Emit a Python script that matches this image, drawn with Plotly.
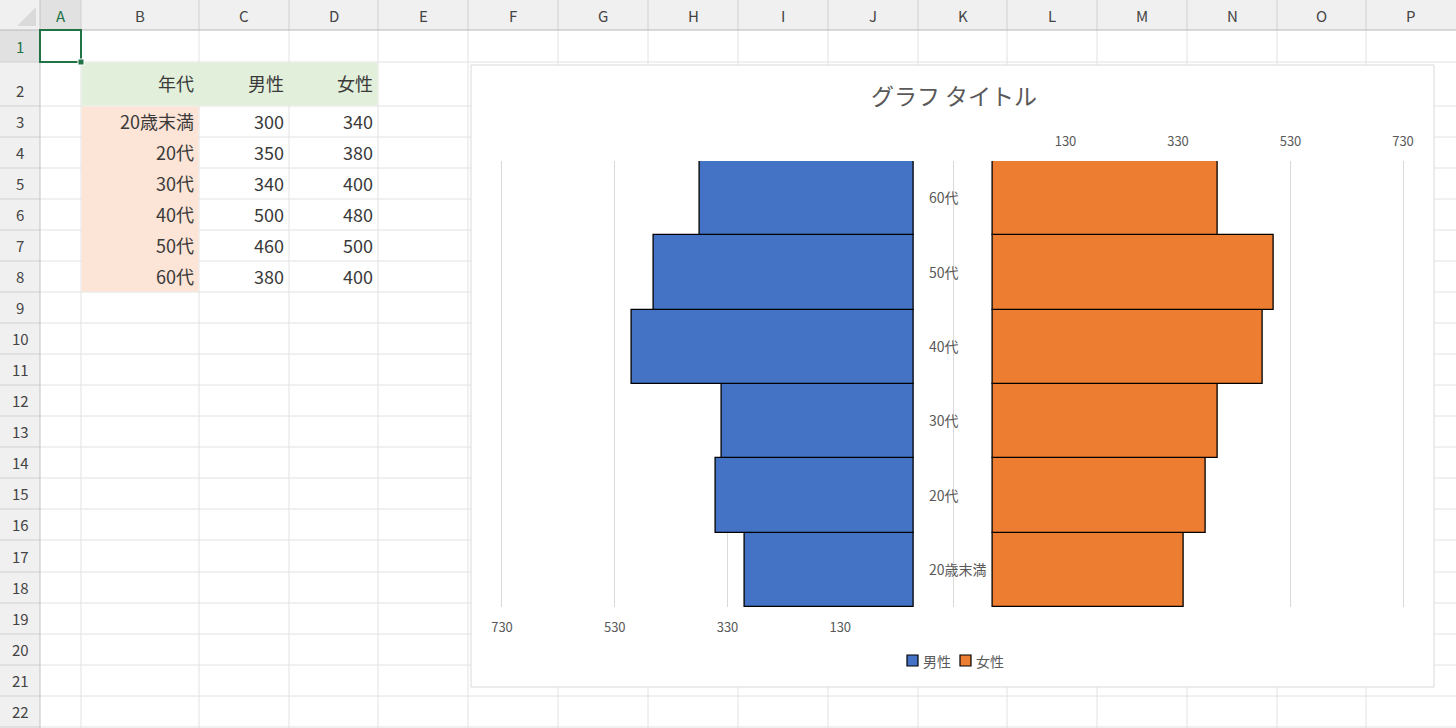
import plotly.graph_objects as go

# ---------------- data ----------------
categories = ["20歳末満", "20代", "30代", "40代", "50代", "60代"]
male = [300, 350, 340, 500, 460, 380]
female = [340, 380, 400, 480, 500, 400]
table_header = ["年代", "男性", "女性"]
series_names = ["男性", "女性"]
series_colors = ["#4472C4", "#ED7D31"]
tick_vals = [-70, 130, 330, 530, 730]
tick_text = ["", "130", "330", "530", "730"]
col_letters = list("ABCDEFGHIJKLMNOP")
row_numbers = list(range(1, 23))
chart_title = "グラフ タイトル"

# ---------------- geometry helpers ----------------
W, H = 1456, 728
col_edges = [40, 81, 199, 289, 378, 468, 558, 648, 738, 828, 918, 1007, 1097, 1187, 1277, 1366, 1456]
row_edges = [30, 62, 106, 137, 168, 199, 230, 261, 292, 323, 354, 385, 416, 447, 478, 509, 540,
             572, 603, 634, 665, 696, 727]


def X(px):
    return px / W


def Y(py):
    return 1 - py / H


FONT = "Noto Sans CJK JP, Noto Sans, sans-serif"
shapes = []
annotations = []


def rect(x0, y0, x1, y1, fill=None, line=None, lw=1, layer="below"):
    shapes.append(dict(type="rect", xref="paper", yref="paper",
                       x0=X(x0), x1=X(x1), y0=Y(y1), y1=Y(y0),
                       fillcolor=fill if fill else "rgba(0,0,0,0)",
                       line=dict(color=line if line else "rgba(0,0,0,0)", width=lw if line else 0),
                       layer=layer))


def hline(x0, x1, y, color, lw=1, layer="below"):
    shapes.append(dict(type="line", xref="paper", yref="paper", x0=X(x0), x1=X(x1), y0=Y(y), y1=Y(y),
                       line=dict(color=color, width=lw), layer=layer))


def vline(x, y0, y1, color, lw=1, layer="below"):
    shapes.append(dict(type="line", xref="paper", yref="paper", x0=X(x), x1=X(x), y0=Y(y0), y1=Y(y1),
                       line=dict(color=color, width=lw), layer=layer))


def text(px, py, s, size=16, color="#3a3a3a", anchor="center"):
    annotations.append(dict(xref="paper", yref="paper", x=X(px), y=Y(py), text=s, showarrow=False,
                            xanchor=anchor, yanchor="middle", font=dict(family=FONT, size=size, color=color)))


# ---------------- spreadsheet ----------------
HDR_BG = "#F0F0F0"
SEL_BG = "#E1E1E1"
GRID = "#E2E2E2"
SEL_GREEN = "#217346"

rect(0, 0, W, 30, fill=HDR_BG)
rect(0, 0, 40, H, fill=HDR_BG)
rect(col_edges[0], 0, col_edges[1], 30, fill=SEL_BG)
rect(0, row_edges[0], 40, row_edges[1], fill=SEL_BG)
shapes.append(dict(type="path", xref="paper", yref="paper",
                   path=f"M {X(36)} {Y(26)} L {X(36)} {Y(7)} L {X(17)} {Y(26)} Z",
                   fillcolor="#DADADA", line=dict(width=0), layer="below"))

# grid lines
for cx in col_edges[1:-1]:
    vline(cx, 30, H, GRID)
    vline(cx, 0, 30, "#D0D0D0")
for ry in row_edges[1:]:
    hline(40, W, ry, GRID)
    hline(0, 40, ry, "#D0D0D0")

# table fills (cover grid lines like Excel fills)
rect(col_edges[1] + 0.5, row_edges[1] + 0.5, col_edges[4] - 0.5, row_edges[2] - 0.5, fill="#E2EFDA")
rect(col_edges[1] + 0.5, row_edges[2] + 0.5, col_edges[2] - 0.5, row_edges[8] - 0.5, fill="#FCE4D6")

hline(0, W, 30, "#B8B8B8")
vline(40, 0, H, "#C4C4C4")

for i, c in enumerate(col_letters):
    cx = (col_edges[i] + col_edges[i + 1]) / 2
    text(cx, 15, c, size=15, color=SEL_GREEN if i == 0 else "#444444")
for i, r in enumerate(row_numbers):
    text(20, row_edges[i + 1] - 15.5, str(r), size=15, color=SEL_GREEN if i == 0 else "#444444")

hdr_y = (row_edges[1] + row_edges[2]) / 2 - 1
for j, h in enumerate(table_header):
    text(col_edges[j + 2] - 3, hdr_y, h, size=18, anchor="right")
for i, cat in enumerate(categories):
    ry = (row_edges[i + 2] + row_edges[i + 3]) / 2 - 0.5
    text(col_edges[2] - 3, ry, cat, size=18, anchor="right")
    text(col_edges[3] - 3, ry, str(male[i]), size=18, anchor="right")
    text(col_edges[4] - 3, ry, str(female[i]), size=18, anchor="right")

# chart area
rect(471, 65, 1434, 687, fill="#FFFFFF", line="#D9D9D9", lw=1)

# selected cell A1
rect(col_edges[0], row_edges[0], col_edges[1], row_edges[1], line=SEL_GREEN, lw=2, layer="above")
rect(col_edges[1] - 3, row_edges[1] - 3, col_edges[1] + 3, row_edges[1] + 3, fill=SEL_GREEN,
     line="#FFFFFF", lw=1, layer="above")

# category labels inside chart
for cat in categories:
    annotations.append(dict(xref="paper", yref="y", x=X(927), y=cat, text=cat, showarrow=False,
                            xanchor="left", yanchor="middle", yshift=1,
                            font=dict(family=FONT, size=14, color="#595959")))

# legend (Excel style: small bordered square + label)
legend_x = [907, 960]
for k, name in enumerate(series_names):
    lx = legend_x[k]
    rect(lx, 655, lx + 11, 666, fill=series_colors[k], line="#000000", lw=1.2, layer="above")
    text(lx + 14, 661, name, size=14, color="#595959", anchor="left")

# ---------------- chart ----------------
fig = go.Figure()
fig.add_trace(go.Bar(x=male, y=categories, orientation="h", name=series_names[0],
                     xaxis="x", yaxis="y",
                     marker=dict(color=series_colors[0], line=dict(color="#000000", width=1.3))))
fig.add_trace(go.Bar(x=female, y=categories, orientation="h", name=series_names[1],
                     xaxis="x2", yaxis="y",
                     marker=dict(color=series_colors[1], line=dict(color="#000000", width=1.3))))

axis_common = dict(tickvals=tick_vals, ticktext=tick_text, showgrid=True, gridcolor="#D9D9D9",
                   gridwidth=1.3, zeroline=False, showline=False, ticks="",
                   tickfont=dict(family=FONT, size=13, color="#595959"), ticklabelstandoff=11,
                   fixedrange=True, automargin=False)

sl = (953 - 502) / 800.0
sr = (1403 - 953) / 800.0
pad = 4
fig.update_layout(
    width=W, height=H, autosize=False,
    margin=dict(l=0, r=0, t=0, b=0, pad=0, autoexpand=False),
    paper_bgcolor="#FFFFFF", plot_bgcolor="rgba(0,0,0,0)",
    barmode="group", bargap=0, bargroupgap=0,
    xaxis=dict(domain=[X(502 - pad * sl), X(953 + pad * sl)], range=[730 + pad, -70 - pad],
               side="bottom", anchor="y", **axis_common),
    xaxis2=dict(domain=[X(953 - pad * sr), X(1403 + pad * sr)], range=[-70 - pad, 730 + pad],
                side="top", anchor="y", **axis_common),
    yaxis=dict(domain=[Y(607), Y(161)], categoryorder="array", categoryarray=categories,
               range=[-0.5, 5.5], showticklabels=False, showgrid=False, zeroline=False,
               showline=False, ticks="", anchor="x", fixedrange=True, automargin=False),
    title=dict(text=chart_title, x=X(954), xanchor="center", y=Y(97), yanchor="middle",
               xref="paper", yref="paper", automargin=False,
               font=dict(family=FONT, size=23, color="#595959")),
    showlegend=False,
    shapes=shapes,
    annotations=annotations,
)

fig.write_html("out.html", config={"responsive": False, "displayModeBar": False},
               post_script="document.body.style.margin='0';document.body.style.overflow='hidden';")
